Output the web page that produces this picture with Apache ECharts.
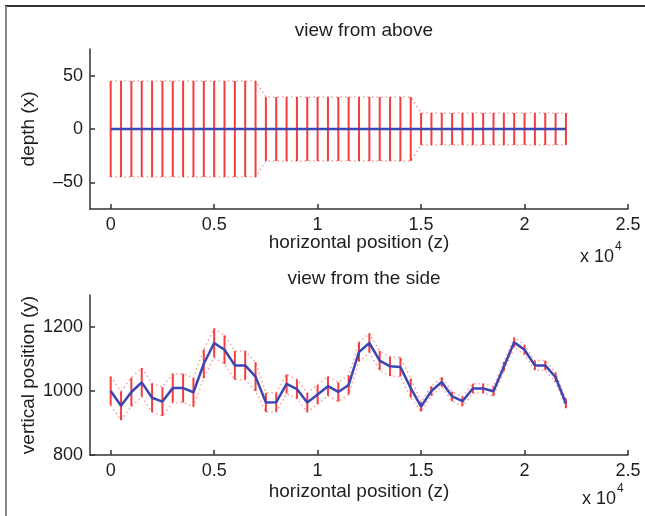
<!DOCTYPE html>
<html lang="en">
<head>
    <meta charset="UTF-8">
    <title>view from above / view from the side</title>
    <script src="https://cdn.jsdelivr.net/npm/echarts@6/dist/echarts.min.js"></script>
    <style>
        html, body { margin: 0; padding: 0; background: #fff; }
        #chart { width: 645px; height: 516px; }
    </style>
</head>
<body>
    <div id="chart"></div>
    <script>
        // horizontal position (z) of every sample
        var zPos = [0, 500, 1000, 1500, 2000, 2500, 3000, 3500, 4000, 4500,
            5000, 5500, 6000, 6500, 7000, 7500, 8000, 8500, 9000, 9500,
            10000, 10500, 11000, 11500, 12000, 12500, 13000, 13500, 14000, 14500,
            15000, 15500, 16000, 16500, 17000, 17500, 18000, 18500, 19000, 19500,
            20000, 20500, 21000, 21500, 22000];
        // depth (x), seen from above
        var depth = [0, 0, 0, 0, 0, 0, 0, 0, 0, 0,
            0, 0, 0, 0, 0, 0, 0, 0, 0, 0,
            0, 0, 0, 0, 0, 0, 0, 0, 0, 0,
            0, 0, 0, 0, 0, 0, 0, 0, 0, 0,
            0, 0, 0, 0, 0];
        // vertical position (y), seen from the side
        var height = [1000, 954, 997, 1027, 979, 967, 1009, 1009, 996, 1085,
            1150, 1129, 1080, 1080, 1045, 964, 965, 1022, 1006, 964,
            989, 1015, 997, 1019, 1122, 1150, 1095, 1077, 1075, 1009,
            951, 1000, 1028, 983, 968, 1008, 1008, 999, 1076, 1152,
            1129, 1080, 1080, 1043, 961];
        // half length of the error bars (same for both views)
        var spread = [45, 45, 45, 45, 45, 45, 45, 45, 45, 45,
            45, 45, 45, 45, 45, 30, 30, 30, 30, 30,
            30, 30, 30, 30, 30, 30, 30, 30, 30, 30,
            15, 15, 15, 15, 15, 15, 15, 15, 15, 15,
            15, 15, 15, 15, 15];
        // tick labels
        var zTicks = [0, 5000, 10000, 15000, 20000, 25000];
        var depthTicks = [-50, 0, 50];
        var heightTicks = [800, 1000, 1200];

        var RED = '#f21c1c';
        var BLUE = '#3b45b3';
        var INK = '#1e1e1e';
        var FONT = 'Liberation Sans';

        function pairs(ys) {
            return zPos.map(function(z, i) { return [z, ys[i]]; });
        }
        function edge(ys, sign) {
            return zPos.map(function(z, i) { return [z, ys[i] + sign * spread[i]]; });
        }
        function bars(ys) {
            return zPos.map(function(z, i) { return [z, ys[i] - spread[i], ys[i] + spread[i]]; });
        }

        function renderBar(params, api) {
            var lo = api.coord([api.value(0), api.value(1)]);
            var hi = api.coord([api.value(0), api.value(2)]);
            return {
                type: 'line',
                shape: { x1: lo[0], y1: lo[1], x2: hi[0], y2: hi[1] },
                style: { stroke: RED, lineWidth: 2, opacity: 0.85 }
            };
        }

        function xAxisFor(idx, gap) {
            return {
                type: 'value', gridIndex: idx, min: -1000, max: 25000,
                name: 'horizontal position (z)', nameLocation: 'middle', nameGap: gap,
                nameMoveOverlap: false,
                nameTextStyle: { color: INK, fontSize: 19, fontFamily: FONT },
                axisLine: { onZero: false, lineStyle: { color: '#333', width: 1.5 } },
                axisTick: { inside: true, length: 5, customValues: zTicks, lineStyle: { color: '#333', width: 1.5 } },
                axisLabel: {
                    customValues: zTicks, margin: 7, color: INK, fontSize: 18, fontFamily: FONT,
                    formatter: function(v) { return String(v / 10000); }
                },
                splitLine: { show: false }
            };
        }

        function yAxisFor(idx, min, max, ticks, name) {
            return {
                type: 'value', gridIndex: idx, min: min, max: max,
                name: name, nameLocation: 'middle', nameGap: 52, nameRotate: 90,
                nameMoveOverlap: false,
                nameTextStyle: { color: INK, fontSize: 19, fontFamily: FONT },
                axisLine: { show: true, onZero: false, lineStyle: { color: '#333', width: 1.5 } },
                axisTick: { show: true, inside: true, length: 5, customValues: ticks, lineStyle: { color: '#333', width: 1.5 } },
                axisLabel: {
                    customValues: ticks, margin: 7, color: INK, fontSize: 18, fontFamily: FONT,
                    formatter: function(v) { return v < 0 ? '\u2013' + (-v) : String(v); }
                },
                splitLine: { show: false }
            };
        }

        function dotted(ys, sign, idx) {
            return {
                type: 'line', xAxisIndex: idx, yAxisIndex: idx, data: edge(ys, sign),
                symbol: 'none', silent: true,
                lineStyle: { color: 'rgba(242,40,40,0.45)', width: 1.5, type: [1.5, 3] }
            };
        }

        var chart = echarts.init(document.getElementById('chart'), null, { renderer: 'canvas' });
        chart.setOption({
            backgroundColor: '#fff',
            animation: false,
            title: [
                { text: 'view from above', left: 359, top: 16, textAlign: 'center',
                  textStyle: { color: INK, fontSize: 19, fontWeight: 'normal', fontFamily: FONT } },
                { text: 'view from the side', left: 359, top: 264, textAlign: 'center',
                  textStyle: { color: INK, fontSize: 19, fontWeight: 'normal', fontFamily: FONT } }
            ],
            grid: [
                { left: 90, top: 49, width: 538, height: 160 },
                { left: 90, top: 295, width: 538, height: 160 }
            ],
            xAxis: [xAxisFor(0, 24), xAxisFor(1, 27)],
            yAxis: [
                yAxisFor(0, -75, 75, depthTicks, 'depth (x)'),
                yAxisFor(1, 800, 1300, heightTicks, 'vertical position (y)')
            ],
            series: [
                dotted(depth, 1, 0), dotted(depth, -1, 0),
                { type: 'custom', xAxisIndex: 0, yAxisIndex: 0, data: bars(depth), renderItem: renderBar, silent: true },
                { type: 'line', xAxisIndex: 0, yAxisIndex: 0, data: pairs(depth), symbol: 'none',
                  lineStyle: { color: BLUE, width: 2.5 } },
                dotted(height, 1, 1), dotted(height, -1, 1),
                { type: 'custom', xAxisIndex: 1, yAxisIndex: 1, data: bars(height), renderItem: renderBar, silent: true },
                { type: 'line', xAxisIndex: 1, yAxisIndex: 1, data: pairs(height), symbol: 'none',
                  lineStyle: { color: BLUE, width: 2.5 } }
            ],
            graphic: [
                // picture frame
                { type: 'line', shape: { x1: 5, y1: 6, x2: 645, y2: 6 }, style: { stroke: '#333', lineWidth: 2 } },
                { type: 'line', shape: { x1: 6, y1: 6, x2: 6, y2: 516 }, style: { stroke: '#888', lineWidth: 2 } },
                // axis exponent, top plot
                { type: 'text', left: 580, top: 248, style: { text: 'x 10', fill: INK, font: '18px "Liberation Sans"' } },
                { type: 'text', left: 615, top: 241, style: { text: '4', fill: INK, font: '12px "Liberation Sans"' } },
                // axis exponent, bottom plot
                { type: 'text', left: 582, top: 490, style: { text: 'x 10', fill: INK, font: '18px "Liberation Sans"' } },
                { type: 'text', left: 617, top: 483, style: { text: '4', fill: INK, font: '12px "Liberation Sans"' } }
            ]
        });
    </script>
</body>
</html>
